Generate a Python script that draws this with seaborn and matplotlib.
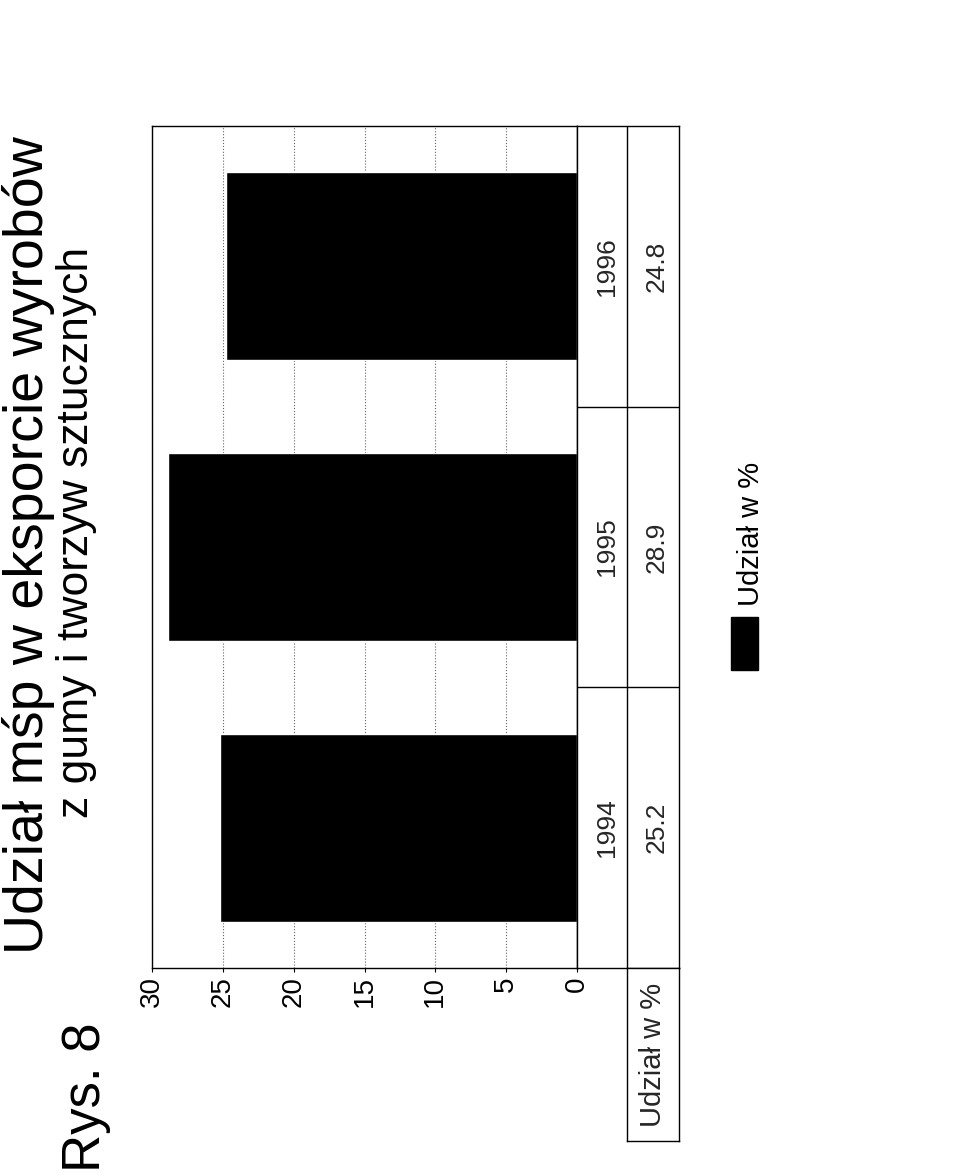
import numpy as np
import pandas as pd
import matplotlib
matplotlib.use('Agg')
import matplotlib.pyplot as plt
import seaborn as sns
from matplotlib.patches import Rectangle

# ---- data ----
years = ['1994', '1995', '1996']
shares = [25.2, 28.9, 24.8]
share_labels = ['25.2', '28.9', '24.8']
series_name = 'Udział w %'
title = 'Udział mśp w eksporcie wyrobów'
subtitle = 'z gumy i tworzyw sztucznych'
fig_label = 'Rys. 8'
value_ticks = [0, 5, 10, 15, 20, 25, 30]

sns.set_style('white')
plt.rcParams['font.family'] = ['Liberation Sans', 'DejaVu Sans']

W, H = 960, 1176
fig = plt.figure(figsize=(W / 100, H / 100), dpi=100)
fig.patch.set_facecolor('white')


def box(l, t, r, b):
    return [l / W, 1 - b / H, (r - l) / W, (b - t) / H]


def ftxt(x, y, s, size, ha='center', va='baseline'):
    fig.text(x / W, 1 - y / H, s, rotation=90, rotation_mode='anchor',
             ha=ha, va=va, fontsize=size, color='black')


# ---- main bar axes (chart is rotated 90 degrees) ----
ax = fig.add_axes(box(152, 126, 577, 968))
df = pd.DataFrame({'year': years, 'share': shares})
order = years[::-1]
sns.barplot(data=df, x='share', y='year', order=order, orient='h',
            color='black', width=0.67, saturation=1, ax=ax)
ax.set_xlim(30, 0)
ax.set_xticks(value_ticks)
ax.set_xticklabels([str(v) for v in value_ticks])
ax.tick_params(axis='x', labelrotation=90, labelsize=20, length=3, width=0.8,
               direction='out', pad=3, bottom=True, colors='black')
ax.tick_params(axis='y', left=False, labelleft=False)
ax.set_xlabel('')
ax.set_ylabel('')
ax.grid(axis='x', linestyle=':', color='0.4', linewidth=0.8)
ax.grid(axis='y', visible=False)
ax.set_axisbelow(True)
for s in ax.spines.values():
    s.set_visible(True)
    s.set_color('black')
    s.set_linewidth(1.0)

# ---- data table ----
axt = fig.add_axes(box(577, 126, 679, 968))
axt.set_xlim(0, 1)
axt.set_ylim(ax.get_ylim())
axt.set_xticks([])
axt.set_yticks([])
for s in axt.spines.values():
    s.set_visible(True)
    s.set_color('black')
    s.set_linewidth(1.0)
axt.axvline(0.49, color='black', lw=1.0)
for k in range(1, len(order)):
    axt.axhline(k - 0.5, color='black', lw=1.0)
for yr, lab in zip(years, share_labels):
    pos = order.index(yr)
    axt.text(0.29, pos, yr, rotation=90, ha='center', va='center', fontsize=19)
    axt.text(0.78, pos, lab, rotation=90, ha='center', va='center', fontsize=19)

# ---- row header ----
axh = fig.add_axes(box(627, 968, 679, 1141))
axh.set_xticks([])
axh.set_yticks([])
for s in axh.spines.values():
    s.set_visible(True)
    s.set_color('black')
    s.set_linewidth(1.0)
axh.text(0.5, 0.5, series_name, rotation=90, ha='center', va='center',
         fontsize=21, transform=axh.transAxes)

# ---- legend ----
fig.patches.append(Rectangle((731 / W, 1 - 670 / H), 27 / W, 53 / H,
                             transform=fig.transFigure, facecolor='black',
                             edgecolor='black'))
ftxt(759, 606, series_name, 21, ha='left')

# ---- titles ----
ftxt(43, 545, title, 40)
ftxt(88, 532, subtitle, 32)
ftxt(100, 1172, fig_label, 38, ha='left')

fig.savefig('out.png', dpi=100, facecolor='white')
